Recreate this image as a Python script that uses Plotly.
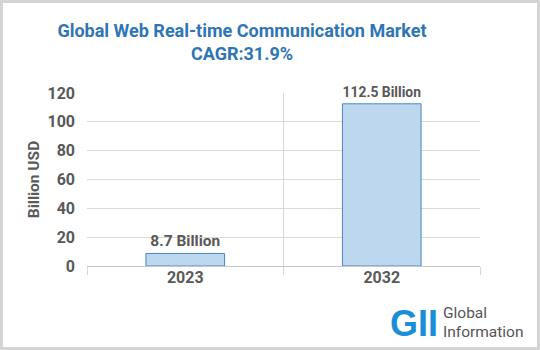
import plotly.graph_objects as go

years = ["2023", "2032"]
values = [8.7, 112.5]
labels = ["8.7 Billion", "112.5 Billion"]
title_lines = ["Global Web Real-time Communication Market", "CAGR:31.9%"]
y_title = "Billion USD"

W, H = 540, 350
L, R, T, B = 87, 60, 93, 84
pw, ph = W - L - R, H - T - B

font = "Roboto, Liberation Sans, Arial, sans-serif"
gray = "#595959"

fig = go.Figure()
fig.add_trace(go.Bar(
    x=years, y=values, text=labels, textposition="outside",
    textfont=dict(size=15.5, color=gray, family=font, weight="bold"),
    marker=dict(color="#bdd7ee", line=dict(color="#4a86c5", width=1)),
    width=0.4, cliponaxis=False,
))

fig.update_layout(
    width=W, height=H,
    margin=dict(l=L, r=R, t=T, b=B),
    paper_bgcolor="white", plot_bgcolor="white",
    showlegend=False,
    title=dict(
        text="<br>".join(title_lines),
        x=242 / W, xanchor="center", y=1 - 37 / H, yanchor="top",
        font=dict(size=18, color="#2e75b6", family=font, weight="bold"),
    ),
    xaxis=dict(
        type="category", tickson="boundaries", showgrid=True,
        gridcolor="#d9d9d9", gridwidth=1,
        ticks="outside", ticklen=8, tickcolor="#d9d9d9",
        showline=False, zeroline=False,
        tickfont=dict(size=16, color=gray, family=font, weight="bold"),
    ),
    yaxis=dict(
        range=[0, 120], tickvals=[0, 20, 40, 60, 80, 100, 120],
        showgrid=True, gridcolor="#d9d9d9", gridwidth=1,
        zeroline=True, zerolinecolor="#c8c8c8", zerolinewidth=1,
        showline=False, ticks="", ticklabelstandoff=11,
        tickfont=dict(size=16, color=gray, family=font, weight="bold"),
        title=dict(text=y_title, standoff=4,
                   font=dict(size=15.5, color=gray, family=font, weight="bold")),
    ),
    bargap=0.6,
)

# outer border
fig.add_shape(type="rect", xref="paper", yref="paper",
              x0=-(L - 1.5) / pw, x1=1 + (R - 1.5) / pw,
              y0=-(B - 1.5) / ph, y1=1 + (T - 1.5) / ph,
              line=dict(color="#d4d4d4", width=3), fillcolor="rgba(0,0,0,0)")

# logo
fig.add_annotation(xref="paper", yref="paper",
                   x=(388 - L) / pw, y=-(323 - (H - B)) / ph,
                   xanchor="left", yanchor="middle", showarrow=False,
                   text="<b>GII</b>",
                   font=dict(size=36, color="#1a8fd8", family="Liberation Sans, Arial, sans-serif"))
for txt, yy in (("Global", 313), ("Information", 332)):
    fig.add_annotation(xref="paper", yref="paper",
                       x=(441 - L) / pw, y=-(yy - (H - B)) / ph,
                       xanchor="left", yanchor="middle", showarrow=False,
                       text=txt,
                       font=dict(size=15.5, color="#555555", family=font))

fig.write_html("out.html")
